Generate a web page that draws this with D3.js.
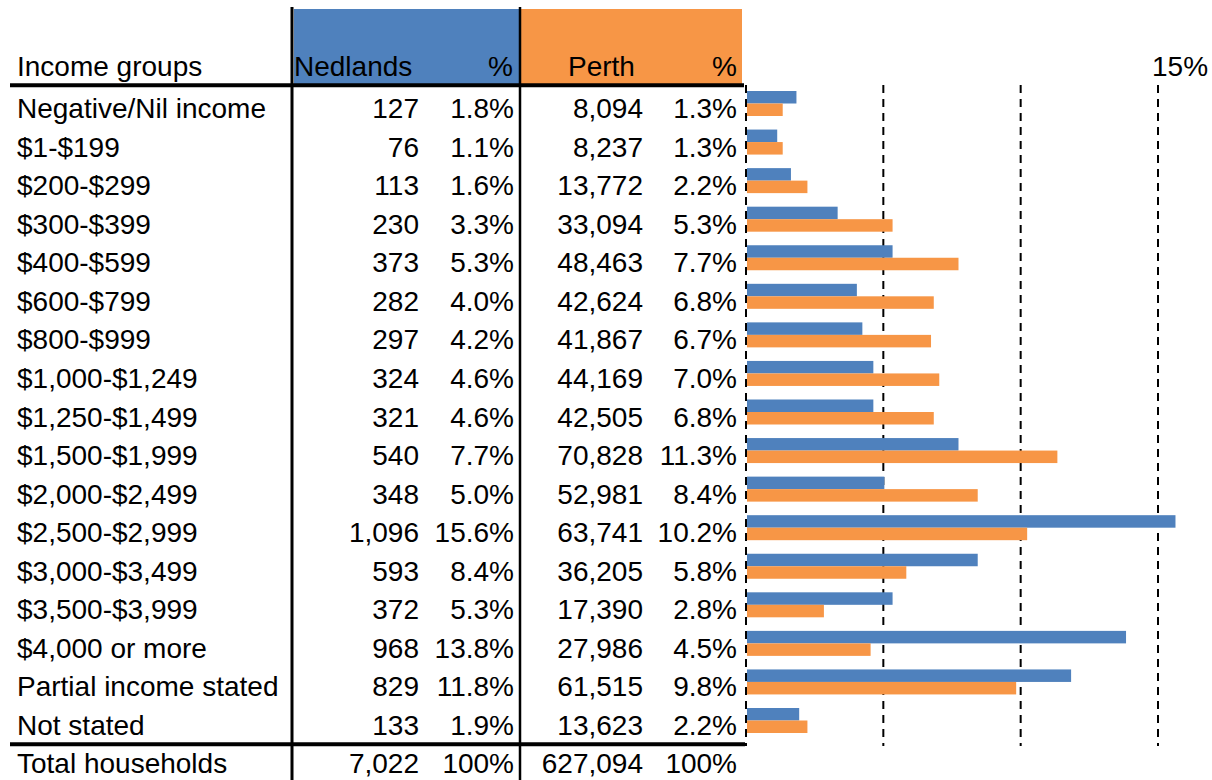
<!DOCTYPE html>
<html>
<head>
<meta charset="utf-8">
<script src="https://cdn.jsdelivr.net/npm/d3@7"></script>
<style>
  html, body { margin: 0; padding: 0; background: #fff; }
  svg { display: block; font-family: "Liberation Sans", Arial, sans-serif; }
</style>
</head>
<body>
<svg id="chart" width="1212" height="780"></svg>
<script>
// ---- Data ----
const categories = [
  "Negative/Nil income", "$1-$199", "$200-$299", "$300-$399", "$400-$599",
  "$600-$799", "$800-$999", "$1,000-$1,249", "$1,250-$1,499", "$1,500-$1,999",
  "$2,000-$2,499", "$2,500-$2,999", "$3,000-$3,499", "$3,500-$3,999",
  "$4,000 or more", "Partial income stated", "Not stated"
];
const nedlandsCount = ["127","76","113","230","373","282","297","324","321","540","348","1,096","593","372","968","829","133"];
const nedlandsPct = [1.8, 1.1, 1.6, 3.3, 5.3, 4.0, 4.2, 4.6, 4.6, 7.7, 5.0, 15.6, 8.4, 5.3, 13.8, 11.8, 1.9];
const perthCount = ["8,094","8,237","13,772","33,094","48,463","42,624","41,867","44,169","42,505","70,828","52,981","63,741","36,205","17,390","27,986","61,515","13,623"];
const perthPct = [1.3, 1.3, 2.2, 5.3, 7.7, 6.8, 6.7, 7.0, 6.8, 11.3, 8.4, 10.2, 5.8, 2.8, 4.5, 9.8, 2.2];
const headerLabels = ["Income groups", "Nedlands", "%", "Perth", "%"];
const totalLabels = ["Total households", "7,022", "100%", "627,094", "100%"];
const gridTicks = [0, 5, 10, 15];
const axisLabel = "15%";

// ---- Drawing ----
const svg = d3.select("#chart");
const BLUE = "#4F81BD", ORANGE = "#F79646";
const FS = 28;

const y = d3.scaleLinear().domain([0, categories.length - 1]).range([118, 735]); // baselines
const x = d3.scaleLinear().domain([0, 15]).range([747, 1159]);
const barH = 12.5;

// header fills
svg.append("rect").attr("x", 294).attr("y", 9).attr("width", 226).attr("height", 75).attr("fill", BLUE);
svg.append("rect").attr("x", 520).attr("y", 9).attr("width", 222).attr("height", 75).attr("fill", ORANGE);

// header text
const hdr = svg.append("g").attr("font-size", FS).attr("fill", "#000");
hdr.append("text").attr("x", 17).attr("y", 76).text(headerLabels[0]);
hdr.append("text").attr("x", 294).attr("y", 76).text(headerLabels[1]);
hdr.append("text").attr("x", 513).attr("y", 76).attr("text-anchor", "end").text(headerLabels[2]);
hdr.append("text").attr("x", 568).attr("y", 76).text(headerLabels[3]);
hdr.append("text").attr("x", 737).attr("y", 76).attr("text-anchor", "end").text(headerLabels[4]);

// 15% label
svg.append("text").attr("x", 1152).attr("y", 76).attr("font-size", FS).text(axisLabel);

// gridlines (dashed) incl. axis at 0
svg.append("g").selectAll("line").data(gridTicks).join("line")
  .attr("x1", d => x(d) - 1).attr("x2", d => x(d) - 1)
  .attr("y1", 85).attr("y2", 746)
  .attr("stroke", "#000").attr("stroke-width", 2)
  .attr("stroke-dasharray", "8,6");

// bars
const idx = d3.range(categories.length);
svg.append("g").selectAll("rect.ned").data(idx).join("rect")
  .attr("x", x(0)).attr("y", i => y(i) - 14.5 - barH)
  .attr("width", i => x(nedlandsPct[i]) - x(0)).attr("height", barH)
  .attr("fill", BLUE);
svg.append("g").selectAll("rect.per").data(idx).join("rect")
  .attr("x", x(0)).attr("y", i => y(i) - 14.5)
  .attr("width", i => x(perthPct[i]) - x(0)).attr("height", barH)
  .attr("fill", ORANGE);

// table rows
const rows = svg.append("g").attr("font-size", FS).attr("fill", "#000");
const fmtPct = v => v.toFixed(1) + "%";
idx.forEach(i => {
  const yy = y(i);
  rows.append("text").attr("x", 17).attr("y", yy).text(categories[i]);
  rows.append("text").attr("x", 419).attr("y", yy).attr("text-anchor", "end").text(nedlandsCount[i]);
  rows.append("text").attr("x", 514).attr("y", yy).attr("text-anchor", "end").text(fmtPct(nedlandsPct[i]));
  rows.append("text").attr("x", 643).attr("y", yy).attr("text-anchor", "end").text(perthCount[i]);
  rows.append("text").attr("x", 737).attr("y", yy).attr("text-anchor", "end").text(fmtPct(perthPct[i]));
});

// total row
const ty = 773;
rows.append("text").attr("x", 17).attr("y", ty).text(totalLabels[0]);
rows.append("text").attr("x", 419).attr("y", ty).attr("text-anchor", "end").text(totalLabels[1]);
rows.append("text").attr("x", 514).attr("y", ty).attr("text-anchor", "end").text(totalLabels[2]);
rows.append("text").attr("x", 643).attr("y", ty).attr("text-anchor", "end").text(totalLabels[3]);
rows.append("text").attr("x", 737).attr("y", ty).attr("text-anchor", "end").text(totalLabels[4]);

// table lines
svg.append("line").attr("x1", 292).attr("x2", 292).attr("y1", 7).attr("y2", 780).attr("stroke", "#000").attr("stroke-width", 3);
svg.append("line").attr("x1", 520).attr("x2", 520).attr("y1", 7).attr("y2", 780).attr("stroke", "#000").attr("stroke-width", 2.5);
svg.append("line").attr("x1", 10).attr("x2", 744).attr("y1", 85.3).attr("y2", 85.3).attr("stroke", "#000").attr("stroke-width", 4);
svg.append("line").attr("x1", 10).attr("x2", 745).attr("y1", 744.3).attr("y2", 744.3).attr("stroke", "#000").attr("stroke-width", 4);
</script>
</body>
</html>
